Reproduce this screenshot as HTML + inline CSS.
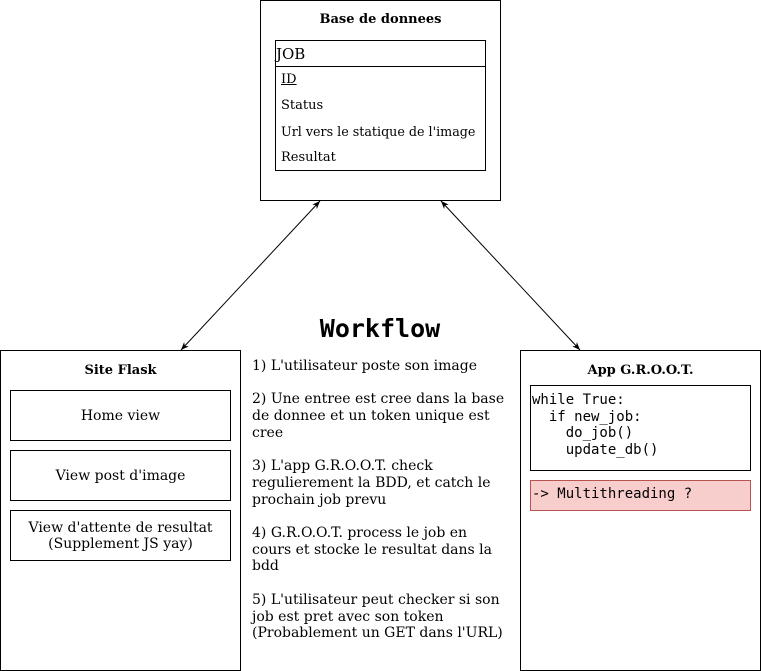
<!DOCTYPE html>
<html><head><style>
body{margin:0;width:761px;height:671px;background:#fff;position:relative;font-family:"DejaVu Serif","Liberation Serif",serif;font-size:13px;color:#000;overflow:hidden}
.a{position:absolute;box-sizing:border-box}
.b{border:1px solid #000}
.c{display:flex;align-items:center;justify-content:center;text-align:center}
.m{font-family:"DejaVu Sans Mono","Liberation Mono",monospace}
</style></head><body>
<div class="a b" style="left:260px;top:0;width:241px;height:201px"></div>
<div class="a" style="left:260px;top:12px;width:241px;text-align:center;font-weight:bold">Base de donnees</div>
<div class="a b" style="left:275px;top:40px;width:211px;height:131px"></div>
<div class="a" style="left:275px;top:66px;width:211px;border-top:1px solid #000"></div>
<div class="a" style="left:276px;top:45px;font-size:15px">JOB</div>
<div class="a" style="left:281px;top:72px;text-decoration:underline">ID</div>
<div class="a" style="left:281px;top:98px">Status</div>
<div class="a" style="left:281px;top:124px;font-size:12.7px">Url vers le statique de l'image</div>
<div class="a" style="left:281px;top:150px">Resultat</div>

<div class="a b" style="left:0;top:350px;width:241px;height:321px"></div>
<div class="a" style="left:0;top:363px;width:241px;text-align:center;font-weight:bold">Site Flask</div>
<div class="a b c" style="left:10px;top:390px;width:221px;height:51px;font-size:14px">Home view</div>
<div class="a b c" style="left:10px;top:450px;width:221px;height:51px;font-size:14px">View post d'image</div>
<div class="a b c" style="left:10px;top:510px;width:221px;height:51px;font-size:14px;line-height:16px">View d'attente de resultat<br>(Supplement JS yay)</div>

<div class="a b" style="left:520px;top:350px;width:241px;height:321px"></div>
<div class="a" style="left:520px;top:363px;width:241px;text-align:center;font-weight:bold">App G.R.O.O.T.</div>
<div class="a b m" style="left:530px;top:385px;width:221px;height:86px;padding:6px 0 0 1px;font-size:14px;line-height:16.5px;white-space:pre">while True:
  if new_job:
    do_job()
    update_db()</div>
<div class="a m" style="left:530px;top:480px;width:221px;height:31px;background:#f8cecc;border:1px solid #b85450;padding:5px 0 0 1px;font-size:14px">-&gt; Multithreading ?</div>

<div class="a m" style="left:250px;top:314px;width:260px;text-align:center;font-size:25px;font-weight:bold">Workflow</div>
<div class="a" style="left:252px;top:358px;width:270px;line-height:16.7px;font-size:14px;white-space:nowrap">1) L'utilisateur poste son image<br><br>2) Une entree est cree dans la base<br>de donnee et un token unique est<br>cree<br><br>3) L'app G.R.O.O.T. check<br>regulierement la BDD, et catch le<br>prochain job prevu<br><br>4) G.R.O.O.T. process le job en<br>cours et stocke le resultat dans la<br>bdd<br><br>5) L'utilisateur peut checker si son<br>job est pret avec son token<br>(Probablement un GET dans l'URL)</div>

<svg class="a" style="left:0;top:0" width="761" height="671">
<defs><marker id="h" viewBox="0 0 10 10" refX="10" refY="5" markerWidth="8" markerHeight="8" orient="auto-start-reverse"><path d="M0,1 L10,5 L0,9 L3,5z" fill="#000"/></marker></defs>
<line x1="320" y1="201" x2="181" y2="350" stroke="#000" marker-start="url(#h)" marker-end="url(#h)"/>
<line x1="441" y1="201" x2="580" y2="350" stroke="#000" marker-start="url(#h)" marker-end="url(#h)"/>
</svg>
</body></html>
